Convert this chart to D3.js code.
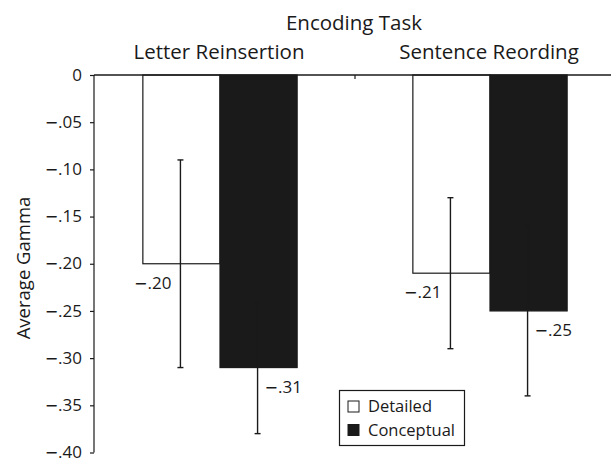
<!DOCTYPE html>
<html>
<head>
<meta charset="utf-8">
<script src="https://cdn.jsdelivr.net/npm/d3@7"></script>
<style>
  html, body { margin: 0; padding: 0; background: #fff; }
  svg { display: block; font-family: "Open Sans", "Noto Sans", sans-serif; }
</style>
</head>
<body>
<div id="chart"></div>
<script>
// Encoding tasks (groups) and gamma series
const tasks = ["Letter Reinsertion", "Sentence Reording"];
const seriesNames = ["Detailed", "Conceptual"];
const detailedValues = [-0.20, -0.21];
const conceptualValues = [-0.31, -0.25];
const detailedErrors = [0.11, 0.08];
const conceptualErrors = [0.07, 0.09];
const yTicks = [0, -0.05, -0.10, -0.15, -0.20, -0.25, -0.30, -0.35, -0.40];
const chartTitle = "Encoding Task";
const yTitle = "Average Gamma";

const width = 611, height = 461;
const ink = "#1a1a1a";
const fills = { Detailed: "#ffffff", Conceptual: "#1a1a1a" };

const rows = [];
tasks.forEach((t, i) => {
  rows.push({ task: t, series: "Detailed", value: detailedValues[i], err: detailedErrors[i] });
  rows.push({ task: t, series: "Conceptual", value: conceptualValues[i], err: conceptualErrors[i] });
});

const svg = d3.select("#chart").append("svg")
  .attr("width", width).attr("height", height);

const axisX = 94;
const x0 = d3.scaleBand().domain(tasks).range([85, 625]).padding(0);
const x1 = d3.scaleBand().domain(seriesNames).range([0, x0.bandwidth()])
  .paddingInner(0).paddingOuter(0.75);
const y = d3.scaleLinear().domain([-0.40, 0]).range([452.5, 75]);

// Numbers are written as "−.05": a long minus followed by the decimals
const decimals = v => d3.format(".2f")(Math.abs(v)).slice(1);
function writeNumber(textSel, v) {
  textSel.text(null);
  if (v === 0) { textSel.append("tspan").text("0"); return; }
  textSel.append("tspan")
    .attr("font-family", "\"DejaVu Sans\", sans-serif")
    .attr("font-size", 16)
    .text("\u2212");
  textSel.append("tspan").text(decimals(v));
}
const centerX = d => x0(d.task) + x1(d.series) + x1.bandwidth() / 2 - 1;

// Bars
svg.append("g").selectAll("rect").data(rows).join("rect")
  .attr("x", d => x0(d.task) + x1(d.series))
  .attr("y", y(0))
  .attr("width", x1.bandwidth())
  .attr("height", d => y(d.value) - y(0))
  .attr("fill", d => fills[d.series])
  .attr("stroke", ink)
  .attr("stroke-width", 1.2);

// Error bars
const cap = 3;
const eg = svg.append("g").attr("stroke", ink).attr("stroke-width", 1.4);
rows.forEach(d => {
  const cx = centerX(d);
  const yTop = y(d.value + d.err), yBot = y(d.value - d.err);
  eg.append("line").attr("x1", cx).attr("x2", cx).attr("y1", yTop).attr("y2", yBot);
  eg.append("line").attr("x1", cx - cap).attr("x2", cx + cap).attr("y1", yTop).attr("y2", yTop);
  eg.append("line").attr("x1", cx - cap).attr("x2", cx + cap).attr("y1", yBot).attr("y2", yBot);
});

// Value labels beside the error bars
svg.append("g").selectAll("text").data(rows).join("text")
  .attr("x", d => d.series === "Detailed" ? centerX(d) - 9 : centerX(d) + 7)
  .attr("y", d => y(d.value) + 25)
  .attr("text-anchor", d => d.series === "Detailed" ? "end" : "start")
  .attr("font-size", 17)
  .attr("fill", ink)
  .each(function(d) { writeNumber(d3.select(this), d.value); });

// Y axis
const yAxis = d3.axisLeft(y).tickValues(yTicks).tickSize(4).tickPadding(8);
const ya = svg.append("g").attr("transform", `translate(${axisX},0)`).call(yAxis);
ya.select(".domain").remove();
ya.append("line").attr("x1", 0).attr("x2", 0).attr("y1", y(0)).attr("y2", y(-0.40))
  .attr("stroke", ink).attr("stroke-width", 1.2);
ya.selectAll(".tick line").attr("stroke", ink).attr("stroke-width", 1.2);
ya.selectAll(".tick text")
  .attr("font-size", 17).attr("fill", ink).attr("dy", "0.3em")
  .attr("font-family", "\"Open Sans\", sans-serif")
  .each(function(v) { writeNumber(d3.select(this), v); });

// Zero line across the top and the group divider tick
svg.append("line").attr("x1", axisX).attr("x2", width).attr("y1", y(0)).attr("y2", y(0))
  .attr("stroke", ink).attr("stroke-width", 1.4);
svg.append("line")
  .attr("x1", x0(tasks[1])).attr("x2", x0(tasks[1]))
  .attr("y1", y(0)).attr("y2", y(0) + 4)
  .attr("stroke", ink).attr("stroke-width", 1.2);

// Titles
svg.append("text").attr("x", 354).attr("y", 30).attr("text-anchor", "middle")
  .attr("font-size", 20.5).attr("fill", ink).text(chartTitle);
svg.append("g").selectAll("text").data(tasks).join("text")
  .attr("x", d => x0(d) + x0.bandwidth() / 2 - 1)
  .attr("y", 59)
  .attr("text-anchor", "middle")
  .attr("font-size", 20.5)
  .attr("fill", ink)
  .text(d => d);

svg.append("text")
  .attr("transform", "translate(30,268) rotate(-90)")
  .attr("text-anchor", "middle")
  .attr("font-size", 18.5).attr("fill", ink).text(yTitle);

// Legend
const lg = svg.append("g").attr("transform", "translate(339.5,390.5)");
lg.append("rect").attr("width", 125).attr("height", 55)
  .attr("fill", "#fff").attr("stroke", ink).attr("stroke-width", 1.2);
seriesNames.forEach((s, i) => {
  const row = lg.append("g").attr("transform", `translate(8.5,${10.5 + i * 23.5})`);
  row.append("rect").attr("width", 11).attr("height", 11)
    .attr("fill", fills[s]).attr("stroke", ink).attr("stroke-width", 1);
  row.append("text").attr("x", 20).attr("y", 11).attr("font-size", 16.5)
    .attr("fill", ink).text(s);
});
</script>
</body>
</html>
